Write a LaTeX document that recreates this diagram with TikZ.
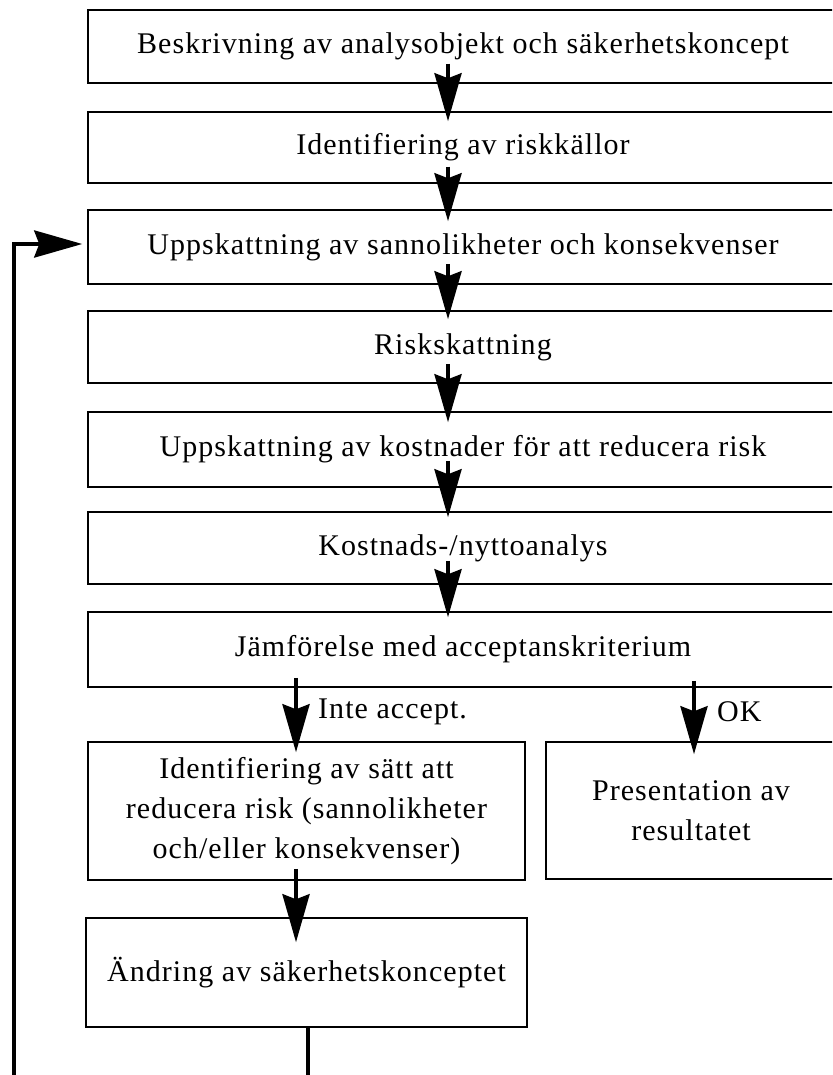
\documentclass[tikz,border=0pt]{standalone}
\usepackage{fontspec}
\setmainfont{Liberation Serif}[LetterSpace=3.5]
\usetikzlibrary{arrows.meta}
\begin{document}
\begin{tikzpicture}[x=1pt,y=-1pt,
  box/.style={draw=black,line width=1.5pt,rectangle,inner sep=0pt,align=center,
    font=\fontsize{30}{40}\selectfont},
  arr/.style={line width=4pt,-{Stealth[length=48pt,width=27pt,inset=5pt]}},
  lbl/.style={anchor=west,inner sep=0pt,font=\fontsize{30}{36}\selectfont}]
\useasboundingbox (0,0) rectangle (832,1075);
\clip (0,0) rectangle (832,1075);
\node[box,minimum width=750pt,minimum height=73pt] (b1) at (463,46.5) {Beskrivning av analysobjekt och säkerhetskoncept};
\node[box,minimum width=750pt,minimum height=71pt] (b2) at (463,147.5) {Identifiering av riskkällor};
\node[box,minimum width=750pt,minimum height=74pt] (b3) at (463,247) {Uppskattning av sannolikheter och konsekvenser};
\node[box,minimum width=750pt,minimum height=72pt] (b4) at (463,347) {Riskskattning};
\node[box,minimum width=750pt,minimum height=75pt] (b5) at (463,449.5) {Uppskattning av kostnader för att reducera risk};
\node[box,minimum width=750pt,minimum height=72pt] (b6) at (463,548) {Kostnads-/nyttoanalys};
\node[box,minimum width=750pt,minimum height=75pt] (b7) at (463,649.5) {Jämförelse med acceptanskriterium};
\node[box,minimum width=437pt,minimum height=138pt] (b8) at (306.5,811) {Identifiering av sätt att\\reducera risk (sannolikheter\\och/eller konsekvenser)};
\node[box,minimum width=290pt,minimum height=137pt] (b9) at (691,810.5) {Presentation av\\resultatet};
\node[box,minimum width=441pt,minimum height=109pt] (b10) at (306.5,972.5) {Ändring av säkerhetskonceptet};
\coordinate (ax) at (448,0);
\coordinate (lx) at (296,0);
\coordinate (rx) at (694,0);
\coordinate (fx) at (308,0);
\coordinate (lb) at (14,1090);
\draw[arr] ([yshift=20pt]b1.south -| ax) -- ([yshift=-10pt]b2.north -| ax);
\draw[arr] ([yshift=17pt]b2.south -| ax) -- ([yshift=-12pt]b3.north -| ax);
\draw[arr] ([yshift=21pt]b3.south -| ax) -- ([yshift=-9pt]b4.north -| ax);
\draw[arr] ([yshift=20pt]b4.south -| ax) -- ([yshift=-11pt]b5.north -| ax);
\draw[arr] ([yshift=27pt]b5.south -| ax) -- ([yshift=-6pt]b6.north -| ax);
\draw[arr] ([yshift=24pt]b6.south -| ax) -- ([yshift=-6pt]b7.north -| ax);
\draw[arr] ([yshift=10pt]b7.south -| lx) -- ([yshift=-11pt]b8.north -| lx);
\draw[arr] ([yshift=7pt]b7.south -| rx) -- ([yshift=-13pt]b9.north -| rx);
\draw[arr] ([yshift=12pt]b8.south -| lx) -- ([yshift=-25pt]b10.north -| lx);
\draw[arr] (b10.south -| fx) |- (lb) |- ([xshift=-5pt,yshift=3pt]b3.west);
\node[lbl] (l1) at (318,712) {Inte accept.};
\node[lbl] (l2) at (717,712) {OK};
\end{tikzpicture}
\end{document}
